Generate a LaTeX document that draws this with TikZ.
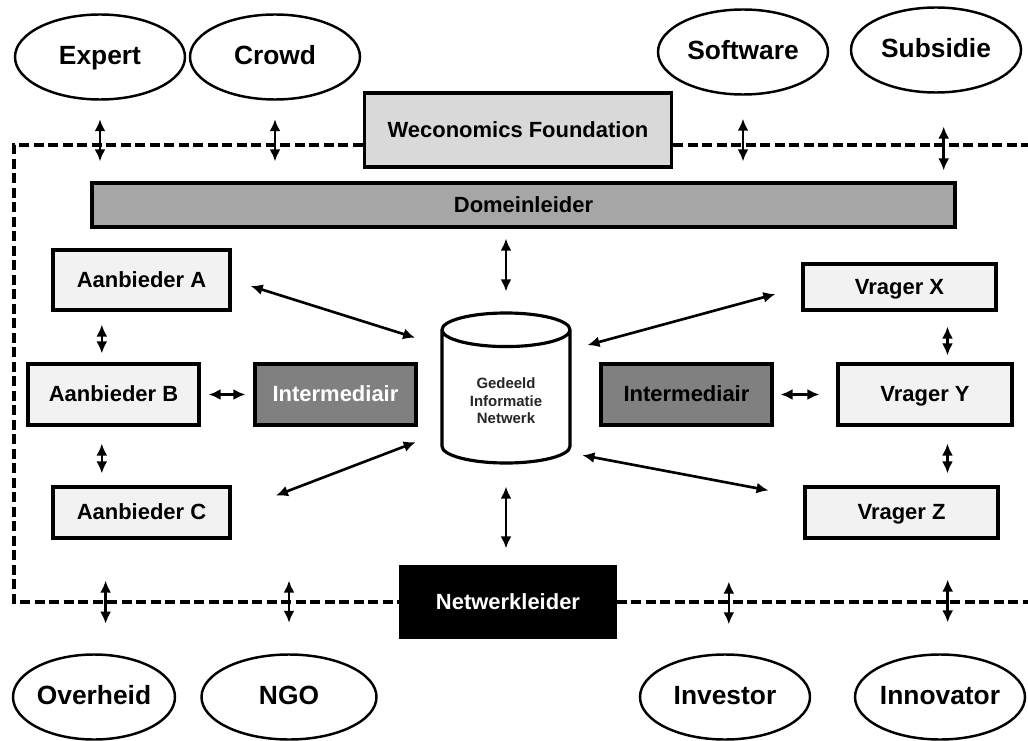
\documentclass[tikz,border=0pt]{standalone}
\usepackage{fontspec}
\setmainfont{Liberation Sans}
\usepackage{tikz}
\usetikzlibrary{arrows.meta, shapes.geometric}

\begin{document}
\begin{tikzpicture}[
        actor/.style = {
            ellipse,
            draw=black,
            line width=1.4pt,
            minimum width=3.4cm,
            minimum height=1.7cm,
            inner sep=0pt,
            text height=2ex,
            text depth=0.45ex,
            font=\bfseries\fontsize{15}{18}\selectfont
        },
        box/.style = {
            rectangle,
            draw=black,
            line width=1.8pt,
            fill=black!5,
            inner sep=0pt,
            text height=2ex,
            text depth=0.45ex,
            font=\bfseries\fontsize{12.5}{15}\selectfont
        },
        arrow/.style = {
            {Latex[length=2.4mm,width=2.2mm]}-{Latex[length=2.4mm,width=2.2mm]},
            line width=1.5pt
        },
        border/.style = {
            line width=1.8pt,
            dash pattern=on 0.2cm off 0.09cm
        }
    ]
    \useasboundingbox (0,0) rectangle (20.56,14.8);

    % Outside actors
    \node[actor] (expert)    at (2.00,13.66)  {Expert};
    \node[actor] (crowd)     at (5.50,13.66)  {Crowd};
    \node[actor] (software)  at (14.86,13.76) {Software};
    \node[actor] (subsidie)  at (18.72,13.80) {Subsidie};
    \node[actor, minimum width=3.24cm] (overheid)  at (1.88,0.86)  {Overheid};
    \node[actor, minimum width=3.5cm]  (ngo)       at (5.78,0.86)  {NGO};
    \node[actor] (investor)  at (14.50,0.86)  {Investor};
    \node[actor] (innovator) at (18.80,0.86)  {Innovator};

    % Network border
    \coordinate (tl) at (0.28,11.9);
    \coordinate (tr) at (20.56,11.9);
    \coordinate (bl) at (0.28,2.76);
    \coordinate (br) at (20.56,2.76);

    % Nodes
    \node[box, fill=black!15, minimum width=6.14cm, minimum height=1.48cm] (foundation) at (10.36,12.20) {Weconomics Foundation};
    \node[box, fill=black!35, minimum width=17.26cm, minimum height=0.88cm] (domein) at (10.47,10.70) {Domeinleider};
    \node[box, minimum width=3.54cm, minimum height=1.2cm]  (aanA) at (2.83,9.20) {Aanbieder A};
    \node[box, minimum width=3.42cm, minimum height=1.22cm] (aanB) at (2.27,6.91) {Aanbieder B};
    \node[box, minimum width=3.54cm, minimum height=1.02cm] (aanC) at (2.83,4.55) {Aanbieder C};
    \node[box, fill=black!50, text=white, minimum width=3.22cm, minimum height=1.22cm] (interL) at (6.71,6.91) {Intermediair};
    \node[box, fill=black!50, minimum width=3.42cm, minimum height=1.22cm] (interR) at (13.73,6.91) {Intermediair};
    \node[box, minimum width=3.86cm, minimum height=0.92cm] (vragX) at (17.99,9.06) {Vrager X};
    \node[box, minimum width=3.48cm, minimum height=1.22cm] (vragY) at (18.50,6.91) {Vrager Y};
    \node[box, minimum width=3.86cm, minimum height=1.02cm] (vragZ) at (18.03,4.55) {Vrager Z};
    \node[box, fill=black, text=white, minimum width=4.28cm, minimum height=1.4cm] (netwerk) at (10.16,2.76) {Netwerkleider};
    \node[cylinder, shape border rotate=90, aspect=0.4, draw=black, line width=1.8pt, fill=white,
          minimum width=2.56cm, minimum height=3cm, align=center, text=black!85, anchor=shape center,
          font=\bfseries\fontsize{8.5}{10}\selectfont] (db) at (10.12,7.04) {Gedeeld\\Informatie\\Netwerk};

    % Dashed border
    \draw[border] (foundation.west |- tl) -- (tl) -- (bl) -- (netwerk.west);
    \draw[border] (foundation.east |- tr) -- (tr);
    \draw[border] (netwerk.east) -- (br);

    % Arrows to the outside
    \draw[arrow, shorten <=0.37cm, shorten >=0.4cm]  (expert.south) -- (expert.south |- domein.north);
    \draw[arrow, shorten <=0.37cm, shorten >=0.4cm]  (crowd.south) -- (crowd.south |- domein.north);
    \draw[arrow, shorten <=0.46cm, shorten >=0.4cm]  (software.south) -- (software.south |- domein.north);
    \draw[arrow, shorten <=0.66cm, shorten >=0.22cm] (subsidie.-80) -- (subsidie.-80 |- domein.north);
    \draw[arrow, shorten <=0.6cm, shorten >=0.82cm]  (overheid.75) -- (overheid.75 |- aanC.south);
    \draw[arrow, shorten <=0.61cm, shorten >=0.82cm] (ngo.north) -- (ngo.north |- aanC.south);
    \draw[arrow, shorten <=0.58cm, shorten >=0.84cm] (investor.85) -- (investor.85 |- vragZ.south);
    \draw[arrow, shorten <=0.62cm, shorten >=0.8cm]  (innovator.80) -- (innovator.80 |- vragZ.south);

    % Arrows inside
    \draw[arrow, shorten <=0.2cm, shorten >=0.4cm]   (db.north |- domein.south) -- (db.north);
    \draw[arrow, shorten <=0.44cm, shorten >=0.34cm] (db.south) -- (db.south |- netwerk.north);
    \draw[arrow, shorten <=0.26cm, shorten >=0.18cm] (aanB.110 |- aanA.south) -- (aanB.110);
    \draw[arrow, shorten <=0.34cm, shorten >=0.24cm] (aanB.250) -- (aanB.250 |- aanC.north);
    \draw[arrow, shorten <=0.16cm, shorten >=0.16cm] (aanB) -- (interL);
    \draw[arrow, shorten <=0.14cm, shorten >=0.34cm] (interR) -- (vragY);
    \draw[arrow, shorten <=0.3cm, shorten >=0.14cm]  (vragY.55 |- vragX.south) -- (vragY.55);
    \draw[arrow, shorten <=0.34cm, shorten >=0.24cm] (vragY.-55) -- (vragY.-55 |- vragZ.north);
    \draw[arrow, shorten <=0.4cm, shorten >=0.53cm]  (aanA.east) -- (db.140);
    \draw[arrow, shorten <=0.95cm, shorten >=0.53cm] (aanC.east) -- (db.206);
    \draw[arrow, shorten <=0.33cm, shorten >=0.54cm] (db.38) -- (vragX.west);
    \draw[arrow, shorten <=0.3cm, shorten >=0.71cm]  (db.-40) -- (vragZ.171);

\end{tikzpicture}
\end{document}
